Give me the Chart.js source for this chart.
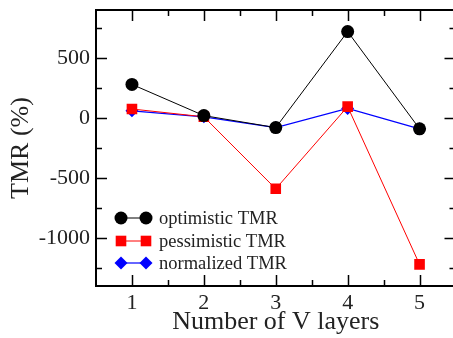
<!DOCTYPE html>
<html>
<head>
<meta charset="utf-8">
<script src="https://cdn.jsdelivr.net/npm/chart.js@4.4.1/dist/chart.umd.min.js"></script>
<style>
  html, body { margin: 0; padding: 0; background: #fff; overflow: hidden; }
  #wrap { width: 463px; height: 338px; }
  #c { width: 463px; height: 338px; display: block; }
</style>
</head>
<body>
<div id="wrap"><canvas id="c" width="463" height="338"></canvas></div>
<script>
// Number of V layers
const layers = [1, 2, 3, 4, 5];
// TMR (%) for each layer count
const optimisticTMR = [280, 20, -80, 720, -90];
const pessimisticTMR = [75, 10, -590, 95, -1220];
const normalizedTMR = [60, 10, -80, 80, -90];
// Labelled ticks
const yMajorTicks = [-1000, -500, 0, 500];
const yMinorTicks = [-1250, -750, -250, 250, 750];
const xMajorTicks = [1, 2, 3, 4, 5];
const xMinorTicks = [1.5, 2.5, 3.5, 4.5];

const serif = "'Liberation Serif', 'DejaVu Serif', serif";

function pts(ys) { return layers.map((x, i) => ({ x: x, y: ys[i] })); }

// Inward tick marks on all four sides; the right frame edge runs just past the page edge
const frameTicks = {
  id: 'frameTicks',
  afterDatasetsDraw(chart) {
    const { ctx, chartArea: a, scales: { x, y } } = chart;
    ctx.save();
    ctx.strokeStyle = '#000';
    ctx.lineWidth = 1.5;
    const major = 11, minor = 6;
    ctx.beginPath();
    yMajorTicks.concat(yMinorTicks).forEach(v => {
      const len = yMajorTicks.includes(v) ? major : minor;
      const py = Math.round(y.getPixelForValue(v)) + 0.5;
      ctx.moveTo(a.left, py); ctx.lineTo(a.left + len, py);
      ctx.moveTo(a.right, py); ctx.lineTo(a.right - len, py);
    });
    xMajorTicks.concat(xMinorTicks).forEach(v => {
      const len = xMajorTicks.includes(v) ? major : minor;
      const px = Math.round(x.getPixelForValue(v)) + 0.5;
      ctx.moveTo(px, a.bottom); ctx.lineTo(px, a.bottom - len);
      ctx.moveTo(px, a.top); ctx.lineTo(px, a.top + len);
    });
    ctx.stroke();
    ctx.lineWidth = 2;
    ctx.strokeRect(a.left, a.top, a.right - a.left, a.bottom - a.top);
    ctx.restore();
  }
};

// Legend with line + marker samples inside the plot
const lineLegend = {
  id: 'lineLegend',
  afterDatasetsDraw(chart) {
    const { ctx } = chart;
    const rows = [218, 241, 263];
    const x0 = 121, x1 = 146;
    ctx.save();
    chart.data.datasets.forEach((ds, i) => {
      const yy = rows[i];
      ctx.strokeStyle = ds.borderColor;
      ctx.lineWidth = ds.borderWidth;
      ctx.beginPath(); ctx.moveTo(x0, yy); ctx.lineTo(x1, yy); ctx.stroke();
      const opts = { pointStyle: ds.pointStyle, radius: ds.pointRadius, rotation: 0, borderWidth: 0 };
      ctx.fillStyle = ds.pointBackgroundColor;
      ctx.strokeStyle = ds.pointBackgroundColor;
      Chart.helpers.drawPoint(ctx, opts, x0, yy);
      Chart.helpers.drawPoint(ctx, opts, x1, yy);
      ctx.fillStyle = '#222';
      ctx.font = '18.5px ' + serif;
      ctx.textBaseline = 'middle';
      ctx.textAlign = 'left';
      ctx.fillText(ds.label, 159, yy + 1);
    });
    ctx.restore();
  }
};

new Chart(document.getElementById('c'), {
  type: 'line',
  data: {
    datasets: [
      { label: 'optimistic TMR', data: pts(optimisticTMR), borderColor: '#000', borderWidth: 1,
        pointStyle: 'circle', pointRadius: 6.5, pointBackgroundColor: '#000', pointBorderWidth: 0 },
      { label: 'pessimistic TMR', data: pts(pessimisticTMR), borderColor: '#ff0000', borderWidth: 1,
        pointStyle: 'rect', pointRadius: 7.5, pointBackgroundColor: '#ff0000', pointBorderWidth: 0 },
      { label: 'normalized TMR', data: pts(normalizedTMR), borderColor: '#0000ff', borderWidth: 1.2,
        pointStyle: 'rectRot', pointRadius: 6.5, pointBackgroundColor: '#0000ff', pointBorderWidth: 0 }
    ]
  },
  options: {
    responsive: false,
    animation: false,
    layout: { padding: { top: 10, right: 0, left: 0, bottom: 0 } },
    plugins: { legend: { display: false }, tooltip: { enabled: false } },
    elements: { line: { tension: 0 } },
    scales: {
      x: {
        type: 'linear', min: 0.5, max: 5.5,
        afterBuildTicks(s) { s.ticks = xMajorTicks.map(v => ({ value: v })); },
        afterFit(s) { s.height = 52; s.paddingLeft = 0; s.paddingRight = 0; },
        grid: { display: false, drawTicks: false },
        border: { display: false },
        ticks: { color: '#222', padding: 4, font: { family: serif, size: 22 }, callback: v => String(v) },
        title: { display: true, text: 'Number of V layers', color: '#222',
                 font: { family: serif, size: 26 }, padding: { top: 0, bottom: 0 } }
      },
      y: {
        type: 'linear', min: -1400, max: 900,
        afterBuildTicks(s) { s.ticks = yMajorTicks.map(v => ({ value: v })); },
        afterFit(s) { s.width = 96; s.paddingTop = 0; s.paddingBottom = 0; },
        grid: { display: false, drawTicks: false },
        border: { display: false },
        ticks: { color: '#222', padding: 6, font: { family: serif, size: 22 }, callback: v => String(v) },
        title: { display: true, text: 'TMR (%)', color: '#222',
                 font: { family: serif, size: 26 }, padding: { top: 6, bottom: 0 } }
      }
    }
  },
  plugins: [frameTicks, lineLegend]
});
</script>
</body>
</html>
